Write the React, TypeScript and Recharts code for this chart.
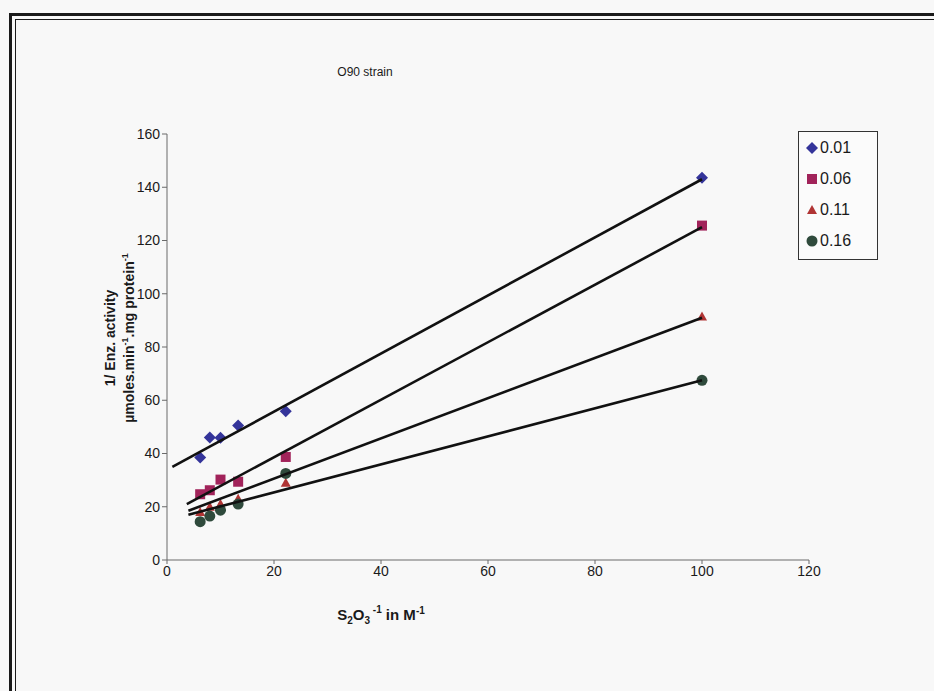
import { ComposedChart, Scatter, XAxis, YAxis } from 'recharts'

const FONT = '"Liberation Sans", Arial, sans-serif'
const INK = '#1a1a1a'
const AXIS = '#6a6a6a'

// 1/[S2O3] values, shared by every series
const X_VALUES = [6.2, 8, 10, 13.3, 22.2, 100]

// 1 / enzyme activity
const Y_001 = [38.5, 46, 45.9, 50.5, 55.9, 143.6]
const Y_006 = [24.7, 26.2, 30.2, 29.4, 38.7, 125.6]
const Y_011 = [18, 20, 21, 23, 29, 91.5]
const Y_016 = [14.4, 16.5, 18.7, 21, 32.5, 67.5]

// trendline ends: [start x, start y, end x, end y]
const TREND_001 = [1, 35, 100, 143]
const TREND_006 = [3.7, 21, 100, 125]
const TREND_011 = [4, 18.5, 100, 91]
const TREND_016 = [4, 17, 100, 67.5]

const X_TICKS = [0, 20, 40, 60, 80, 100, 120]
const Y_TICKS = [0, 20, 40, 60, 80, 100, 120, 140, 160]

const SERIES = [
  { name: '0.01', values: Y_001, trend: TREND_001, color: '#34349a', shape: 'diamond' },
  { name: '0.06', values: Y_006, trend: TREND_006, color: '#a1235a', shape: 'square' },
  { name: '0.11', values: Y_011, trend: TREND_011, color: '#b03434', shape: 'triangle' },
  { name: '0.16', values: Y_016, trend: TREND_016, color: '#2f4a3c', shape: 'circle' }
]

function Marker({ kind, cx, cy, fill }: { kind: string; cx: number; cy: number; fill: string }) {
  if (kind === 'diamond')
    return <polygon points={`${cx},${cy - 6} ${cx + 6},${cy} ${cx},${cy + 6} ${cx - 6},${cy}`} fill={fill} />
  if (kind === 'square') return <rect x={cx - 5} y={cy - 5} width={10} height={10} fill={fill} />
  if (kind === 'triangle')
    return <polygon points={`${cx},${cy - 5} ${cx + 5},${cy + 4} ${cx - 5},${cy + 4}`} fill={fill} />
  return <circle cx={cx} cy={cy} r={5.5} fill={fill} />
}

function LegendBox() {
  return (
    <div
      style={{
        position: 'absolute',
        left: 798,
        top: 131,
        width: 68,
        border: '1px solid #333',
        background: '#fbfbfb',
        padding: '0 4px 3px 6px',
        fontFamily: FONT,
        fontSize: 16,
        color: INK
      }}
    >
      {SERIES.map((s) => (
        <div key={s.name} style={{ display: 'flex', alignItems: 'center', height: 31 }}>
          <svg width={14} height={14} style={{ marginRight: 1 }}>
            <Marker kind={s.shape} cx={7} cy={7} fill={s.color} />
          </svg>
          <span>{s.name}</span>
        </div>
      ))}
    </div>
  )
}

function YLabel() {
  return (
    <g fontFamily={FONT} fontWeight="bold" fontSize={14} fill={INK}>
      <text x={115} y={338} textAnchor="middle" transform="rotate(-90 115 338)">
        1/ Enz. activity
      </text>
      <text x={134} y={338} textAnchor="middle" transform="rotate(-90 134 338)">
        µmoles.min
        <tspan fontSize={9} dy={-6}>-1</tspan>
        <tspan dy={6}>.mg protein</tspan>
        <tspan fontSize={9} dy={-6}>-1</tspan>
      </text>
    </g>
  )
}

function XLabel() {
  return (
    <g fontFamily={FONT} fill={INK}>
      <text x={365} y={76} textAnchor="middle" fontSize={12}>
        O90 strain
      </text>
      <text x={381} y={620} textAnchor="middle" fontWeight="bold" fontSize={15}>
        S<tspan fontSize={10} dy={4}>2</tspan>
        <tspan dy={-4}>O</tspan>
        <tspan fontSize={10} dy={4}>3</tspan>
        <tspan fontSize={10} dy={-11}> -1</tspan>
        <tspan dy={7}> in M</tspan>
        <tspan fontSize={10} dy={-6}>-1</tspan>
      </text>
    </g>
  )
}

export default function App() {
  return (
    <div style={{ position: 'absolute', left: 0, top: 0, width: 934, height: 691, background: '#f8f8f8' }}>
      <div
        style={{
          position: 'absolute',
          left: 9,
          top: 13,
          right: 0,
          bottom: 0,
          borderLeft: `3px solid ${INK}`,
          borderTop: `3px solid ${INK}`
        }}
      />
      <div
        style={{
          position: 'absolute',
          left: 15,
          top: 19,
          right: 0,
          bottom: 0,
          borderLeft: `1.5px solid ${INK}`,
          borderTop: `1.5px solid ${INK}`
        }}
      />
      <div style={{ position: 'absolute', left: 0, top: 0 }}>
        <ComposedChart width={934} height={691} margin={{ top: 134, right: 125, left: 107, bottom: 101 }}>
          <XAxis
            type="number"
            dataKey="x"
            domain={[0, 120]}
            ticks={X_TICKS}
            tickSize={4}
            height={30}
            axisLine={{ stroke: AXIS }}
            tickLine={{ stroke: AXIS }}
            tick={{ fill: INK, fontSize: 14, fontFamily: FONT }}
            label={{ content: () => <XLabel /> }}
          />
          <YAxis
            type="number"
            dataKey="y"
            domain={[0, 160]}
            ticks={Y_TICKS}
            tickSize={5}
            width={60}
            axisLine={{ stroke: AXIS }}
            tickLine={{ stroke: AXIS }}
            tick={{ fill: INK, fontSize: 14, fontFamily: FONT }}
            label={{ content: () => <YLabel /> }}
          />
          {SERIES.map((s) => (
            <Scatter
              key={s.name}
              name={s.name}
              data={X_VALUES.map((x, i) => ({ x, y: s.values[i] }))}
              fill={s.color}
              isAnimationActive={false}
              shape={(p: any) => <Marker kind={s.shape} cx={p.cx} cy={p.cy} fill={s.color} />}
            />
          ))}
          {SERIES.map((s) => (
            <Scatter
              key={s.name + '-trend'}
              name={s.name + ' trend'}
              data={[
                { x: s.trend[0], y: s.trend[1] },
                { x: s.trend[2], y: s.trend[3] }
              ]}
              line={{ stroke: '#111', strokeWidth: 2.6 }}
              lineType="joint"
              isAnimationActive={false}
              legendType="none"
              shape={() => <g />}
            />
          ))}
        </ComposedChart>
      </div>
      <LegendBox />
    </div>
  )
}
